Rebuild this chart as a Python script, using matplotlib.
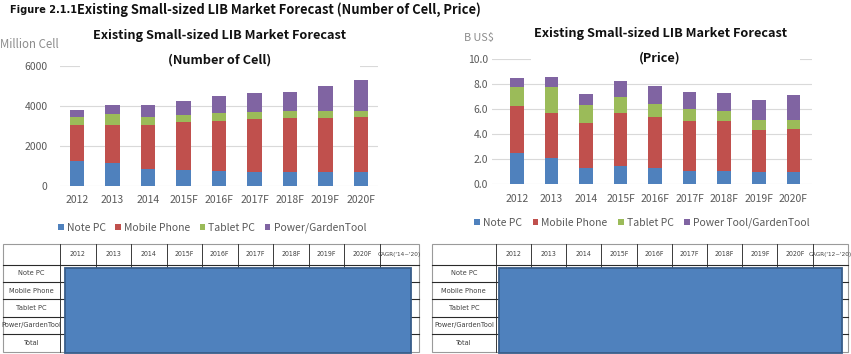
import matplotlib
matplotlib.use('Agg')
import matplotlib.pyplot as plt
from matplotlib.patches import Rectangle
import numpy as np

# ---------------- data ----------------
years = ['2012', '2013', '2014', '2015F', '2016F', '2017F', '2018F', '2019F', '2020F']
cell_series = ['Note PC', 'Mobile Phone', 'Tablet PC', 'Power/GardenTool']
price_series = ['Note PC', 'Mobile Phone', 'Tablet PC', 'Power Tool/GardenTool']
colors = ['#4F81BD', '#C0504D', '#9BBB59', '#8064A2']

cell_note = [1250, 1133, 833, 767, 717, 700, 700, 700, 700]
cell_mobile = [1800, 1917, 2200, 2400, 2533, 2633, 2700, 2667, 2717]
cell_tablet = [383, 533, 417, 366, 383, 350, 350, 350, 316]
cell_power = [350, 434, 567, 700, 867, 950, 967, 1283, 1550]

price_note = [2.46, 2.11, 1.31, 1.44, 1.26, 1.04, 1.04, 0.94, 0.94]
price_mobile = [3.80, 3.59, 3.58, 4.28, 4.14, 4.04, 4.01, 3.39, 3.47]
price_tablet = [1.49, 2.05, 1.47, 1.29, 1.04, 0.94, 0.83, 0.80, 0.72]
price_power = [0.78, 0.83, 0.89, 1.23, 1.39, 1.39, 1.42, 1.64, 1.98]

cell_yticks = [0, 2000, 4000, 6000]
cell_yticklabels = ['0', '2000', '4000', '6000']
price_yticks = [0, 2, 4, 6, 8, 10]
price_yticklabels = ['0.0', '2.0', '4.0', '6.0', '8.0', '10.0']

table_rows_left = ['Note PC', 'Mobile Phone', 'Tablet PC', 'Power/GardenTool', 'Total']
table_rows_right = ['Note PC', 'Mobile Phone', 'Tablet PC', 'Power/GardenTool', 'Total']
table_cols_left = years + ["CAGR('14~'20)"]
table_cols_right = years + ["CAGR('12~'20)"]

# ---------------- layout ----------------
W, H = 851, 354
fig = plt.figure(figsize=(W / 100, H / 100), dpi=100)
fig.patch.set_facecolor('white')

FONT = ['Noto Sans CJK KR', 'DejaVu Sans']
NARROW = ['DejaVu Sans']
TICK_C = '#595959'
GRID_C = '#D9D9D9'


def px_axes(x0, y0, x1, y1, **kw):
    return fig.add_axes([x0 / W, 1 - y1 / H, (x1 - x0) / W, (y1 - y0) / H], **kw)


def bar_chart(ax, data, names, yticks, yticklabels, ylim, xlim, width, ypad):
    x = np.arange(len(years))
    bottom = np.zeros(len(years))
    handles = []
    for vals, name, c in zip(data, names, colors):
        h = ax.bar(x, vals, width=width, bottom=bottom, color=c, label=name, zorder=3)
        bottom += np.array(vals)
        handles.append(h)
    ax.set_xlim(*xlim)
    ax.set_ylim(*ylim)
    ax.set_yticks(yticks)
    ax.set_yticklabels(yticklabels, family=FONT, fontsize=7.5, color=TICK_C)
    ax.set_xticks(x)
    ax.set_xticklabels(years, family=FONT, fontsize=7.5, color=TICK_C)
    ax.tick_params(axis='both', length=0)
    ax.tick_params(axis='y', pad=ypad)
    ax.tick_params(axis='x', pad=7)
    for s in ax.spines.values():
        s.set_visible(False)
    ax.grid(axis='y', color=GRID_C, linewidth=0.8, zorder=0)
    ax.set_axisbelow(True)
    ax.patch.set_alpha(0)
    return handles


# Left chart (number of cells)
axL = px_axes(60, 66, 378, 185.5)
hL = bar_chart(axL, [cell_note, cell_mobile, cell_tablet, cell_power], cell_series,
               cell_yticks, cell_yticklabels, (0, 6000), (-0.48, 8.48), 0.40, 9)
axL.legend(handles=hL, loc='center', bbox_to_anchor=(212 / W, 1 - 228 / H),
           bbox_transform=fig.transFigure, ncol=4, frameon=False,
           prop={'family': FONT, 'size': 7.5}, handlelength=0.55, handleheight=0.55,
           handletextpad=0.3, columnspacing=0.9, labelcolor=TICK_C)

# Right chart (price)
axR = px_axes(492, 59.3, 812, 184)
hR = bar_chart(axR, [price_note, price_mobile, price_tablet, price_power], price_series,
               price_yticks, price_yticklabels, (0, 10), (-0.72, 8.54), 0.39, 3)
axR.legend(handles=hR, loc='center', bbox_to_anchor=(642 / W, 1 - 223 / H),
           bbox_transform=fig.transFigure, ncol=4, frameon=False,
           prop={'family': FONT, 'size': 7.5}, handlelength=0.55, handleheight=0.55,
           handletextpad=0.3, columnspacing=1.0, labelcolor=TICK_C)

# Overlay axes in pixel coordinates (tables, title masks)
ov = fig.add_axes([0, 0, 1, 1], zorder=5)
ov.set_xlim(0, W)
ov.set_ylim(H, 0)
ov.axis('off')
ov.patch.set_alpha(0)

# white masks behind chart titles (hide top gridline as in the original)
ov.add_patch(Rectangle((80, 61), 280, 10, facecolor='white', edgecolor='none'))
ov.add_patch(Rectangle((531, 54), 269, 10, facecolor='white', edgecolor='none'))

# Titles
ov.text(10, 10, 'Figure 2.1.1', family=NARROW, fontstretch='condensed', fontsize=7.8,
        fontweight='bold', ha='left', va='center', color='#111111')
ov.text(77, 10, 'Existing Small-sized LIB Market Forecast (Number of Cell, Price)',
        family=FONT, fontsize=9.3, fontweight='bold', ha='left', va='center', color='#111111')
ov.text(220, 36, 'Existing Small-sized LIB Market Forecast', family=FONT, fontsize=9.2,
        fontweight='bold', ha='center', va='center', color='#111111')
ov.text(220, 60, '(Number of Cell)', family=FONT, fontsize=9.2,
        fontweight='bold', ha='center', va='center', color='#111111')
ov.text(661, 34, 'Existing Small-sized LIB Market Forecast', family=FONT, fontsize=9.2,
        fontweight='bold', ha='center', va='center', color='#111111')
ov.text(660, 58, '(Price)', family=FONT, fontsize=9.2,
        fontweight='bold', ha='center', va='center', color='#111111')
ov.text(0, 45, 'Million Cell', family=FONT, fontsize=8.3, ha='left', va='center', color='#8C8C8C')
ov.text(464, 38, 'B US$', family=FONT, fontsize=7.8, ha='left', va='center', color='#8C8C8C')


def draw_table(x0, x_first, x_years_end, x1, y0, y_head, y1, cols, rows, rect):
    ncols_year = len(cols) - 1
    xs = [x0, x_first] + list(np.linspace(x_first, x_years_end, ncols_year + 1)[1:]) + [x1]
    nrows = len(rows)
    ys = [y0, y_head] + list(np.linspace(y_head, y1, nrows + 1)[1:])
    ov.add_patch(Rectangle((x0, y0), x1 - x0, y1 - y0, facecolor='white',
                           edgecolor='#9A9A9A', linewidth=0.8, zorder=1))
    for xv in xs[1:-1]:
        ov.plot([xv, xv], [y0, y1], color='#3A3A3A', linewidth=0.7, zorder=2)
    for yv in ys[1:-1]:
        ov.plot([x0, x1], [yv, yv], color='#2A2A2A', linewidth=0.8, zorder=2)
    for i, c in enumerate(cols):
        ov.text((xs[i + 1] + xs[i + 2]) / 2, (ys[0] + ys[1]) / 2, c, family=NARROW,
                fontstretch='condensed', fontsize=4.6 if i == len(cols) - 1 else 5,
                ha='center', va='center', color='#404040', zorder=3)
    for j, r in enumerate(rows):
        ov.text((xs[0] + xs[1]) / 2, (ys[j + 1] + ys[j + 2]) / 2, r, family=NARROW,
                fontstretch='condensed', fontsize=5.3, ha='center', va='center',
                color='#404040', zorder=3)
    rx0, ry0, rx1, ry1 = rect
    ov.add_patch(Rectangle((rx0, ry0), rx1 - rx0, ry1 - ry0, facecolor='#4F81BD',
                           edgecolor='#385D8A', linewidth=1.3, zorder=4))


draw_table(3, 60, 379.5, 419, 244.3, 264.7, 351.5, table_cols_left, table_rows_left,
           (65, 267.5, 411, 353))
draw_table(432, 495.7, 812.7, 848.3, 244.3, 264.7, 351.5, table_cols_right, table_rows_right,
           (499, 267.5, 842, 353))

fig.savefig('out.png', dpi=100, facecolor='white')
